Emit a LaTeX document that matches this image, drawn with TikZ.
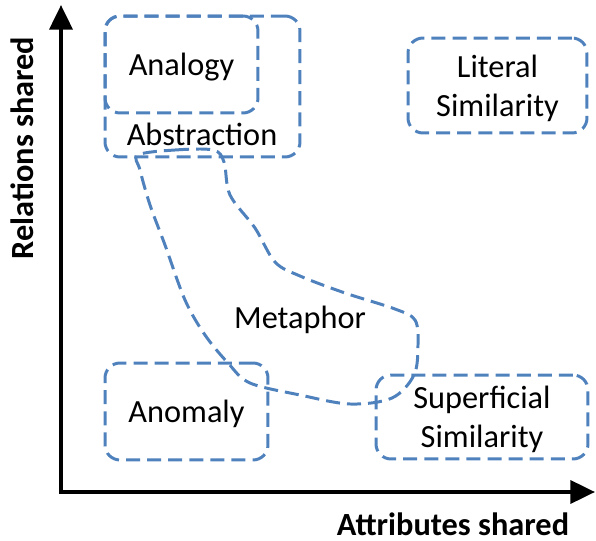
\documentclass[tikz,border=0pt]{standalone}
\usepackage{fontspec}
\setmainfont{Carlito}
\definecolor{regionblue}{RGB}{79,129,189}
\usetikzlibrary{arrows.meta,positioning}

\begin{document}
\begin{tikzpicture}[x=0.02cm, y=-0.02cm, every node/.style={font=\fontsize{18.4}{22}\selectfont},
  region/.style={draw=regionblue, line width=1.7pt, dash pattern=on 8pt off 4pt, rounded corners=0.3cm, inner sep=0pt, align=center, text depth=0pt},
  axis/.style={line width=2.3pt, line join=miter, {Triangle[length=14pt,width=13pt]}-{Triangle[length=14pt,width=13pt]}}]
\useasboundingbox (0,0) rectangle (596,541);
% Axes
\coordinate (origin) at (61,492);
\coordinate (ytop) at (61,5);
\coordinate (xend) at (595,492);
\draw[axis] (ytop) -- (origin) -- (xend);
\node[rotate=90, font=\fontsize{18.4}{22}\selectfont\bfseries] (ylabel) at (22,148) {Relations shared};
\node[font=\fontsize{18.4}{22}\selectfont\bfseries] (xlabel) at (453,524) {Attributes shared};
% Abstraction
\node[region, minimum width=3.9cm, minimum height=2.82cm] (abstraction) at (202.5,86.5) {};
\node (abstrlabel) at (202,134) {Abstraction};
% Analogy
\node[region, minimum width=3.06cm, minimum height=1.94cm] (analogy) at (181.5,64.5) {Analogy};
% Literal similarity
\node[region, minimum width=3.58cm, minimum height=1.9cm] (literal) at (497.5,85.5) {Literal\\Similarity};
% Anomaly
\node[region, minimum width=3.26cm, minimum height=1.94cm] (anomaly) at (186.5,411.5) {Anomaly};
% Superficial similarity
\node[region, minimum width=4.24cm, minimum height=1.68cm] (superficial) at (482,417) {Superficial\\Similarity};
% Metaphor
\draw[regionblue, line width=1.7pt, dash pattern=on 8pt off 4pt] plot[smooth cycle, tension=0.55] coordinates {(138,155) (175,150) (213,150) (224,162) (230,195) (255,228) (275,262) (300,276) (345,293) (395,309) (415,320) (418,345) (414,375) (392,398) (350,404) (300,395) (250,383) (228,363) (205,335) (185,300) (165,245) (150,205) (140,170)};
\node (metaphor) at (300,320) {Metaphor};
\end{tikzpicture}
\end{document}
